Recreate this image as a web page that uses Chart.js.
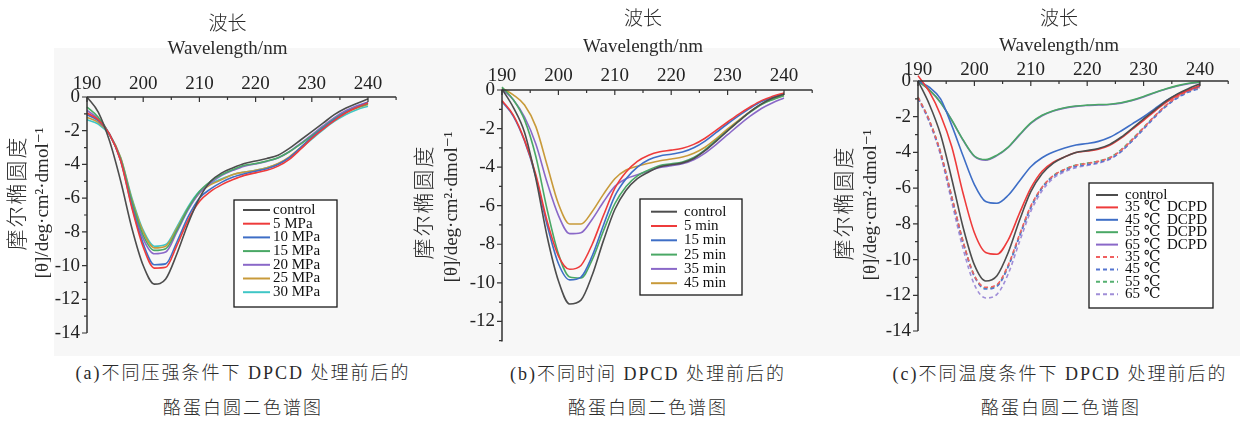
<!DOCTYPE html>
<html>
<head>
<meta charset="utf-8">
<script src="https://cdn.jsdelivr.net/npm/chart.js@4.4.1/dist/chart.umd.min.js"></script>
<style>
  body { margin: 0; background: #fff; width: 1240px; height: 421px; position: relative; overflow: hidden; }
  #band { position: absolute; left: 54px; top: 48px; width: 1186px; height: 308px; background: #f7f7f7; }
  canvas { position: absolute; top: 0; }
  .cap { position: absolute; font-size: 18px; font-weight: 300; color: #2a2a2a;
         font-family: "Liberation Serif", "Times New Roman", "DejaVu Serif", serif, "Noto Sans CJK SC";
         letter-spacing: 2px; line-height: 26px; white-space: nowrap; transform: translateX(-50%); }
</style>
</head>
<body>
<div id="band"></div>
<canvas id="chartA" width="420" height="360" style="left:0px"></canvas>
<canvas id="chartB" width="415" height="360" style="left:410px"></canvas>
<canvas id="chartC" width="410" height="360" style="left:830px"></canvas>

<div class="cap" style="left:243px;top:360px">(a)不同压强条件下 DPCD 处理前后的</div>
<div class="cap" style="left:243px;top:395px">酪蛋白圆二色谱图</div>
<div class="cap" style="left:648px;top:361px">(b)不同时间 DPCD 处理前后的</div>
<div class="cap" style="left:648px;top:395px">酪蛋白圆二色谱图</div>
<div class="cap" style="left:1060px;top:361px">(c)不同温度条件下 DPCD 处理前后的</div>
<div class="cap" style="left:1061px;top:395px">酪蛋白圆二色谱图</div>

<script>
// wavelength grid (nm)
const wavelengths = [190, 192, 194, 196, 198, 200, 202, 204, 206, 208, 210, 212, 214,
                     216, 218, 220, 222, 224, 226, 228, 230, 232, 234, 236, 238, 240];

// (a) pressure
const pressureLabels = ['control', '5 MPa', '10 MPa', '15 MPa', '20 MPa', '25 MPa', '30 MPa'];
const aControl = [0, -0.9, -2.6, -5.0, -7.8, -10.0, -11.1, -10.8, -9.3, -7.5, -6.0, -5.0, -4.5, -4.2, -3.95, -3.8, -3.65, -3.45, -3.05, -2.55, -2.05, -1.55, -1.05, -0.67, -0.38, -0.12];
const a5MPa = [-0.95, -1.35, -2.2, -3.8, -6.6, -8.9, -10.15, -10.1, -8.8, -7.3, -6.2, -5.6, -5.2, -4.9, -4.65, -4.5, -4.35, -4.1, -3.7, -3.1, -2.45, -1.9, -1.4, -0.95, -0.62, -0.35];
const a10MPa = [-1.05, -1.4, -2.2, -3.8, -6.5, -8.7, -9.95, -9.9, -8.6, -7.1, -6.0, -5.45, -5.05, -4.75, -4.55, -4.4, -4.25, -4.0, -3.6, -3.0, -2.4, -1.85, -1.35, -0.92, -0.6, -0.33];
const a15MPa = [-0.6, -1.2, -2.2, -3.7, -6.2, -8.2, -9.1, -9.0, -7.9, -6.6, -5.6, -5.0, -4.6, -4.3, -4.05, -3.95, -3.8, -3.6, -3.25, -2.8, -2.3, -1.8, -1.3, -0.9, -0.62, -0.4];
const a20MPa = [-0.8, -1.3, -2.2, -3.75, -6.3, -8.4, -9.3, -9.2, -8.0, -6.7, -5.7, -5.1, -4.65, -4.35, -4.1, -3.97, -3.82, -3.62, -3.25, -2.75, -2.25, -1.72, -1.22, -0.82, -0.52, -0.3];
const a25MPa = [-1.2, -1.5, -2.2, -3.6, -6.1, -8.0, -8.95, -8.85, -7.8, -6.6, -5.7, -5.2, -4.9, -4.6, -4.45, -4.35, -4.2, -3.95, -3.55, -3.0, -2.4, -1.85, -1.35, -0.95, -0.65, -0.45];
const a30MPa = [-1.35, -1.6, -2.25, -3.6, -6.0, -7.9, -8.85, -8.75, -7.7, -6.5, -5.6, -5.15, -4.85, -4.6, -4.45, -4.35, -4.2, -3.97, -3.6, -3.07, -2.5, -1.95, -1.45, -1.05, -0.75, -0.55];

// (b) time
const timeLabels = ['control', '5 min', '15 min', '25 min', '35 min', '45 min'];
const bControl = [0.05, -0.9, -2.2, -4.6, -7.6, -9.9, -11.1, -10.9, -9.6, -7.8, -6.2, -5.2, -4.6, -4.25, -3.98, -3.88, -3.78, -3.55, -3.15, -2.65, -2.12, -1.62, -1.12, -0.72, -0.42, -0.22];
const b5min = [-0.55, -1.3, -2.6, -4.4, -6.8, -8.6, -9.3, -9.1, -8.0, -6.5, -5.1, -4.25, -3.7, -3.38, -3.2, -3.12, -3.02, -2.82, -2.5, -2.08, -1.66, -1.25, -0.88, -0.55, -0.33, -0.15];
const b15min = [-0.6, -1.35, -2.65, -4.5, -7.0, -9.0, -9.85, -9.7, -8.6, -7.0, -5.5, -4.6, -4.0, -3.62, -3.42, -3.33, -3.22, -3.0, -2.65, -2.2, -1.75, -1.33, -0.94, -0.6, -0.37, -0.2];
const b25min = [0.15, -0.5, -1.55, -3.45, -6.2, -8.5, -9.7, -9.75, -8.8, -7.3, -5.9, -5.0, -4.45, -4.15, -3.92, -3.83, -3.73, -3.5, -3.1, -2.6, -2.1, -1.6, -1.15, -0.75, -0.5, -0.3];
const b35min = [0.05, -0.5, -1.4, -2.8, -4.8, -6.5, -7.45, -7.4, -6.7, -5.8, -5.0, -4.6, -4.4, -4.2, -4.02, -3.93, -3.83, -3.62, -3.27, -2.82, -2.32, -1.82, -1.36, -0.96, -0.66, -0.42];
const b45min = [0.1, -0.25, -0.78, -1.9, -3.9, -5.9, -6.95, -6.95, -6.3, -5.4, -4.6, -4.15, -3.95, -3.8, -3.67, -3.58, -3.48, -3.28, -2.97, -2.52, -2.02, -1.56, -1.12, -0.74, -0.47, -0.27];

// (c) temperature
const tempLabels = ['control', '35 ℃  DCPD', '45 ℃  DCPD', '55 ℃  DCPD', '65 ℃  DCPD', '35 ℃', '45 ℃', '55 ℃', '65 ℃'];
const cControl = [0, -1.3, -3.0, -5.5, -8.2, -10.3, -11.2, -10.9, -9.6, -7.8, -6.2, -5.2, -4.6, -4.25, -4.0, -3.9, -3.78, -3.55, -3.15, -2.65, -2.12, -1.62, -1.12, -0.72, -0.42, -0.15];
const c35DCPD = [0.3, -0.6, -1.9, -3.7, -6.3, -8.5, -9.6, -9.7, -8.9, -7.4, -6.0, -5.05, -4.55, -4.25, -4.0, -3.92, -3.82, -3.6, -3.2, -2.7, -2.2, -1.68, -1.2, -0.8, -0.5, -0.25];
const c45DCPD = [0, -0.35, -1.0, -2.5, -4.2, -5.8, -6.75, -6.85, -6.4, -5.6, -4.8, -4.3, -3.98, -3.75, -3.58, -3.5, -3.38, -3.15, -2.8, -2.4, -2.0, -1.55, -1.1, -0.75, -0.5, -0.3];
const c55DCPD = [0, -0.5, -1.2, -2.2, -3.3, -4.2, -4.4, -4.15, -3.7, -3.0, -2.35, -1.92, -1.66, -1.5, -1.4, -1.35, -1.32, -1.3, -1.22, -1.07, -0.87, -0.64, -0.43, -0.26, -0.13, -0.05];
const c65DCPD = [0, -0.5, -1.2, -2.2, -3.32, -4.22, -4.43, -4.18, -3.72, -3.03, -2.38, -1.95, -1.68, -1.52, -1.42, -1.37, -1.34, -1.32, -1.24, -1.09, -0.89, -0.66, -0.45, -0.28, -0.15, -0.07];
const c35 = [-0.9, -2.2, -4.0, -6.5, -9.0, -10.9, -11.55, -11.4, -10.3, -8.6, -7.0, -5.95, -5.3, -4.95, -4.72, -4.62, -4.5, -4.3, -3.88, -3.28, -2.62, -1.95, -1.35, -0.88, -0.55, -0.35];
const c45 = [-0.95, -2.25, -4.05, -6.55, -9.05, -10.95, -11.65, -11.5, -10.4, -8.7, -7.1, -6.0, -5.35, -5.0, -4.78, -4.68, -4.56, -4.36, -3.95, -3.35, -2.7, -2.02, -1.42, -0.95, -0.62, -0.42];
const c55 = [-0.9, -2.2, -4.0, -6.5, -9.0, -10.9, -11.6, -11.45, -10.35, -8.65, -7.05, -5.95, -5.3, -4.95, -4.7, -4.6, -4.48, -4.28, -3.85, -3.25, -2.6, -1.95, -1.36, -0.9, -0.57, -0.38];
const c65 = [-0.95, -2.3, -4.15, -6.8, -9.4, -11.4, -12.15, -11.95, -10.8, -9.0, -7.3, -6.15, -5.45, -5.08, -4.85, -4.73, -4.6, -4.38, -3.95, -3.33, -2.66, -1.98, -1.38, -0.92, -0.58, -0.38];

const yTitleLines = ['摩尔椭圆度', '[θ]/deg·cm²·dmol⁻¹'];

const colControl = '#4d4d4d', colRed = '#ee3b3b', colBlue = '#3e6ec6', colGreen = '#4aa865',
      colPurple = '#8a68c8', colOrange = '#c89a3a', colCyan = '#3fc6c6';
const serif = '"Liberation Serif", "Times New Roman", "DejaVu Serif", serif, "Noto Sans CJK SC"';

const toPoints = vals => vals.map((v, i) => ({ x: wavelengths[i], y: v }));
const series = (label, vals, color, dash) => ({
  label: label, data: toPoints(vals), borderColor: color, borderWidth: 1.6,
  borderDash: dash || [], clip: false, pointRadius: 0, fill: false
});

// ticks: top axis pointing in, left axis pointing out, with minor ticks
const axisTicks = {
  id: 'axisTicks',
  afterDatasetsDraw(chart, args, opts) {
    const { ctx, chartArea } = chart;
    const xs = chart.scales.x, ys = chart.scales.y;
    ctx.save();
    ctx.strokeStyle = '#333';
    ctx.lineWidth = 1.5;
    ctx.beginPath();
    ctx.moveTo(chartArea.left, chartArea.top);
    ctx.lineTo(xs.getPixelForValue(opts.xEnd), chartArea.top);
    ctx.moveTo(chartArea.left, chartArea.top);
    ctx.lineTo(chartArea.left, chartArea.bottom);
    ctx.stroke();
    ctx.lineWidth = 1.2;
    ctx.beginPath();
    for (let v = xs.min; v <= opts.xEnd; v += 5) {
      const px = xs.getPixelForValue(v);
      const len = v % 10 === 0 ? 5 : 3;
      ctx.moveTo(px, chartArea.top);
      ctx.lineTo(px, chartArea.top + len);
    }
    for (let v = 0; v >= ys.min; v -= 1) {
      const py = ys.getPixelForValue(v);
      const len = v % 2 === 0 ? 5 : 3;
      ctx.moveTo(chartArea.left - len, py);
      ctx.lineTo(chartArea.left, py);
    }
    ctx.stroke();
    ctx.restore();
  }
};

// two-line rotated y title (different sizes per line)
const yTitle = {
  id: 'yTitle',
  afterDraw(chart, args, o) {
    const ctx = chart.ctx;
    ctx.save();
    ctx.fillStyle = '#2a2a2a';
    ctx.textAlign = 'center';
    ctx.textBaseline = 'middle';
    ctx.save();
    ctx.translate(o.x1, o.y1);
    ctx.rotate(-Math.PI / 2);
    ctx.font = '300 21px ' + serif;
    ctx.letterSpacing = '2px';
    ctx.fillText(yTitleLines[0], 1, 0);
    ctx.restore();
    ctx.translate(o.x2, o.y2);
    ctx.rotate(-Math.PI / 2);
    ctx.font = '19px ' + serif;
    ctx.fillText(yTitleLines[1], 0, 0);
    ctx.restore();
  }
};

// framed legend inside the plot
const boxLegend = {
  id: 'boxLegend',
  afterDraw(chart, args, o) {
    const ctx = chart.ctx;
    ctx.save();
    ctx.fillStyle = '#fff';
    ctx.fillRect(o.x, o.y, o.w, o.h);
    ctx.strokeStyle = '#1a1a1a';
    ctx.lineWidth = 1.3;
    ctx.strokeRect(o.x, o.y, o.w, o.h);
    ctx.font = '15px ' + serif;
    ctx.textBaseline = 'middle';
    chart.data.datasets.forEach((ds, i) => {
      const y = o.y + o.first + i * o.row;
      ctx.strokeStyle = ds.borderColor;
      ctx.lineWidth = 2;
      ctx.setLineDash(ds.borderDash.length ? [4, 3] : []);
      ctx.beginPath();
      ctx.moveTo(o.lineX, y);
      ctx.lineTo(o.lineX + o.lineLen, y);
      ctx.stroke();
      ctx.setLineDash([]);
      ctx.fillStyle = '#111';
      const parts = ds.label.split('  ');
      ctx.fillText(parts[0], o.textX, y);
      if (parts[1]) ctx.fillText(parts[1], o.col2X, y);
    });
    ctx.restore();
  }
};

function makeChart(id, datasets, g) {
  return new Chart(document.getElementById(id), {
    type: 'line',
    data: { datasets: datasets },
    options: {
      responsive: false,
      animation: false,
      layout: { padding: { left: 0, top: 0, right: g.width - g.right, bottom: 360 - g.bottom } },
      elements: { line: { cubicInterpolationMode: 'monotone' } },
      plugins: {
        legend: { display: false },
        tooltip: { enabled: false },
        axisTicks: { xEnd: 245 },
        yTitle: g.yTitle,
        boxLegend: g.legend
      },
      scales: {
        x: {
          type: 'linear', position: 'top', min: 190, max: 240,
          afterFit: s => { s.height = g.top; },
          grid: { display: false, drawTicks: false },
          border: { display: false },
          ticks: { stepSize: 10, padding: g.xTickPad, color: '#222', maxRotation: 0, autoSkip: false,
                   font: { family: serif, size: 19 } },
          title: { display: true, text: ['波长', 'Wavelength/nm'], color: '#2a2a2a',
                   font: { family: serif, size: 19, weight: '300', lineHeight: g.xTitleLH },
                   padding: { top: g.xTitleTop, bottom: 0 } }
        },
        y: {
          min: g.yMin, max: 0,
          afterFit: s => { s.width = g.left; },
          afterBuildTicks: s => {
            const t = [];
            for (let v = 0; v >= s.min; v -= 2) t.push({ value: v });
            s.ticks = t;
          },
          grid: { display: false, drawTicks: false },
          border: { display: false },
          ticks: { padding: 7, color: '#222', autoSkip: false,
                   font: { family: serif, size: 19 },
                   callback: v => String(v) }
        }
      }
    },
    plugins: [axisTicks, yTitle, boxLegend]
  });
}

makeChart('chartA', [
  series(pressureLabels[0], aControl, colControl),
  series(pressureLabels[1], a5MPa, colRed),
  series(pressureLabels[2], a10MPa, colBlue),
  series(pressureLabels[3], a15MPa, colGreen),
  series(pressureLabels[4], a20MPa, colPurple),
  series(pressureLabels[5], a25MPa, colOrange),
  series(pressureLabels[6], a30MPa, colCyan)
], {
  width: 420, left: 87, right: 368, top: 97, bottom: 333, yMin: -14,
  xTickPad: 2, xTitleTop: 13, xTitleLH: 1.26,
  yTitle: { x1: 18, y1: 194, x2: 43, y2: 203 },
  legend: { x: 234, y: 200, w: 103, h: 107, first: 10, row: 13.7, lineX: 243, lineLen: 27, textX: 273, col2X: 0 }
});

makeChart('chartB', [
  series(timeLabels[0], bControl, colControl),
  series(timeLabels[1], b5min, colRed),
  series(timeLabels[2], b15min, colBlue),
  series(timeLabels[3], b25min, colGreen),
  series(timeLabels[4], b35min, colPurple),
  series(timeLabels[5], b45min, colOrange)
], {
  width: 415, left: 92, right: 374, top: 90, bottom: 342, yMin: -13.05,
  xTickPad: 3, xTitleTop: 7, xTitleLH: 1.4,
  yTitle: { x1: 15, y1: 203, x2: 42, y2: 207 },
  legend: { x: 230, y: 199, w: 102, h: 96, first: 12.7, row: 14.3, lineX: 241, lineLen: 26, textX: 274, col2X: 0 }
});

makeChart('chartC', [
  series(tempLabels[0], cControl, colControl),
  series(tempLabels[1], c35DCPD, colRed),
  series(tempLabels[2], c45DCPD, colBlue),
  series(tempLabels[3], c55DCPD, colGreen),
  series(tempLabels[4], c65DCPD, colPurple),
  series(tempLabels[5], c35, '#f06060', [4, 3]),
  series(tempLabels[6], c45, '#5575d0', [4, 3]),
  series(tempLabels[7], c55, '#55b070', [4, 3]),
  series(tempLabels[8], c65, '#a08ed8', [4, 3])
], {
  width: 410, left: 88, right: 370, top: 81, bottom: 331, yMin: -14,
  xTickPad: 0, xTitleTop: 7, xTitleLH: 1.37,
  yTitle: { x1: 15, y1: 204, x2: 41, y2: 205 },
  legend: { x: 259, y: 183, w: 124, h: 125, first: 12, row: 12.4, lineX: 266, lineLen: 22, textX: 295, col2X: 337 }
});
</script>
</body>
</html>
